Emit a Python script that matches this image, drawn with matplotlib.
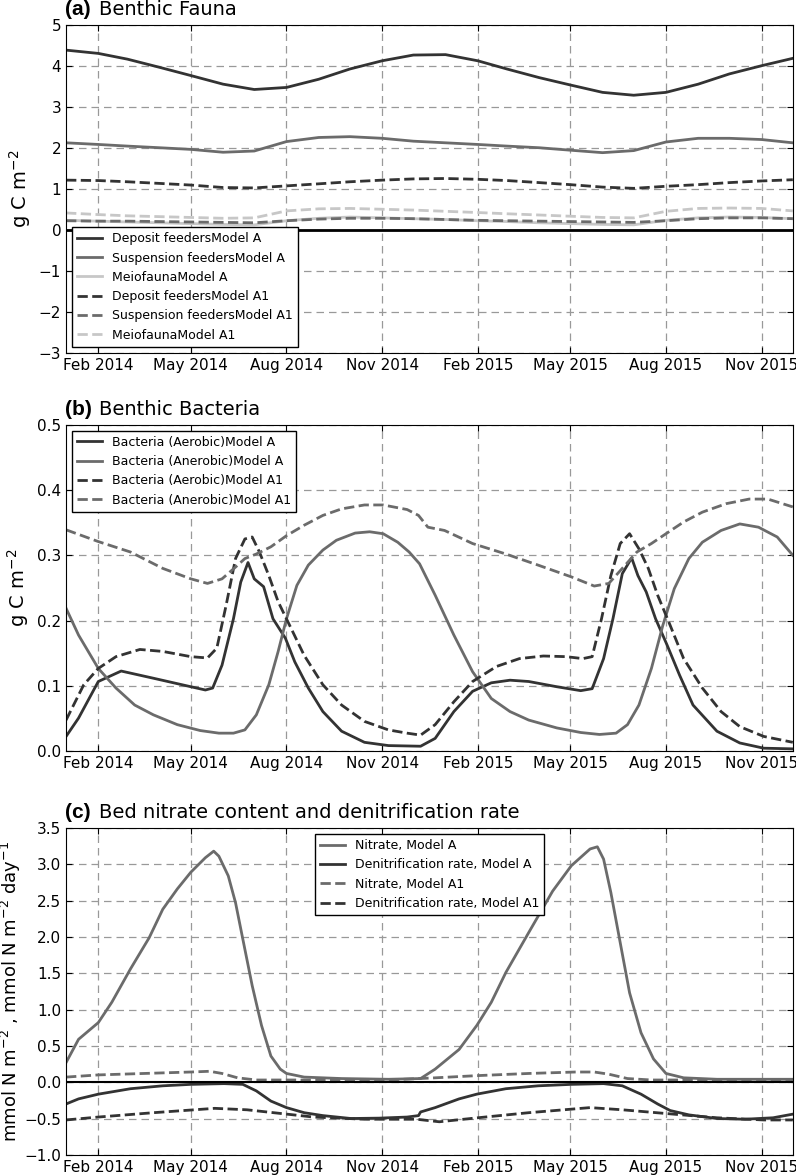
import numpy as np
import matplotlib
matplotlib.use('Agg')
from matplotlib import pyplot as plt
import matplotlib.dates as mdates

START = np.datetime64('2014-01-01')

# ---- panel (a): benthic fauna, monthly values (days since 1 Jan 2014)
fauna_days = [0, 31, 59, 90, 120, 151, 181, 212, 243, 273, 304, 334,
              365, 396, 424, 455, 485, 516, 546, 577, 608, 638, 669, 699]
deposit_a = [4.38, 4.30, 4.16, 3.96, 3.76, 3.55, 3.42, 3.47, 3.67, 3.92, 4.12, 4.26,
             4.27, 4.12, 3.92, 3.71, 3.53, 3.35, 3.28, 3.35, 3.55, 3.80, 4.00, 4.18]
suspension_a = [2.12, 2.08, 2.04, 2.00, 1.96, 1.89, 1.92, 2.15, 2.25, 2.27, 2.23, 2.16,
                2.12, 2.08, 2.04, 2.00, 1.94, 1.88, 1.93, 2.14, 2.23, 2.23, 2.20, 2.12]
meio_a = [0.23, 0.21, 0.19, 0.17, 0.15, 0.13, 0.12, 0.22, 0.28, 0.31, 0.29, 0.27,
          0.25, 0.22, 0.20, 0.17, 0.15, 0.13, 0.12, 0.23, 0.29, 0.31, 0.30, 0.27]
deposit_a1 = [1.21, 1.20, 1.17, 1.13, 1.09, 1.03, 1.02, 1.07, 1.12, 1.17, 1.21, 1.24,
              1.25, 1.23, 1.20, 1.15, 1.10, 1.04, 1.01, 1.06, 1.10, 1.15, 1.19, 1.22]
suspension_a1 = [0.22, 0.21, 0.21, 0.20, 0.19, 0.18, 0.17, 0.22, 0.26, 0.28, 0.28, 0.27,
                 0.25, 0.23, 0.22, 0.21, 0.20, 0.19, 0.18, 0.22, 0.27, 0.29, 0.29, 0.27]
meio_a1 = [0.41, 0.37, 0.34, 0.32, 0.30, 0.28, 0.29, 0.46, 0.51, 0.52, 0.50, 0.48,
           0.45, 0.42, 0.39, 0.36, 0.33, 0.30, 0.29, 0.45, 0.52, 0.53, 0.52, 0.46]

# ---- panel (b): benthic bacteria
aer_a_days = [0, 12, 31, 53, 84, 120, 134, 141, 150, 161, 168, 175, 181, 190, 199, 211,
              220, 233, 247, 265, 287, 310, 341, 355, 373, 391, 409, 427, 445, 472, 495,
              506, 517, 526, 535, 544, 550, 558, 567, 578, 590, 603, 626, 648, 671, 699]
aer_a = [0.023, 0.051, 0.107, 0.123, 0.112, 0.099, 0.094, 0.097, 0.132, 0.203, 0.259,
         0.289, 0.264, 0.252, 0.203, 0.173, 0.137, 0.097, 0.061, 0.031, 0.014, 0.009,
         0.008, 0.020, 0.061, 0.092, 0.105, 0.109, 0.107, 0.099, 0.093, 0.096, 0.142,
         0.203, 0.272, 0.296, 0.269, 0.244, 0.203, 0.163, 0.117, 0.071, 0.031, 0.013,
         0.005, 0.004]
anaer_a_days = [0, 12, 31, 48, 66, 84, 107, 129, 147, 161, 172, 183, 195, 204, 212, 222,
                233, 247, 260, 278, 292, 305, 319, 330, 340, 355, 373, 391, 409, 427, 445,
                472, 495, 513, 529, 540, 551, 563, 574, 585, 599, 612, 630, 648, 666, 684, 699]
anaer_a = [0.219, 0.178, 0.127, 0.097, 0.071, 0.056, 0.041, 0.032, 0.028, 0.028, 0.033,
           0.056, 0.102, 0.153, 0.203, 0.254, 0.285, 0.308, 0.323, 0.334, 0.336, 0.333,
           0.320, 0.305, 0.287, 0.239, 0.178, 0.122, 0.081, 0.061, 0.048, 0.036, 0.029,
           0.026, 0.028, 0.041, 0.071, 0.127, 0.193, 0.249, 0.295, 0.320, 0.338, 0.348,
           0.343, 0.328, 0.300]
aer_a1_days = [0, 17, 31, 48, 71, 93, 120, 136, 145, 154, 163, 172, 179, 186, 195, 204,
               215, 229, 247, 265, 287, 310, 328, 341, 355, 373, 391, 414, 436, 459, 481,
               497, 506, 515, 524, 533, 542, 551, 560, 569, 581, 594, 612, 630, 648, 671, 699]
aer_a1 = [0.048, 0.102, 0.127, 0.145, 0.156, 0.153, 0.145, 0.143, 0.158, 0.224, 0.295,
          0.325, 0.328, 0.305, 0.269, 0.229, 0.193, 0.147, 0.102, 0.071, 0.046, 0.033,
          0.028, 0.025, 0.041, 0.076, 0.107, 0.130, 0.142, 0.146, 0.145, 0.142, 0.145,
          0.203, 0.269, 0.318, 0.333, 0.310, 0.280, 0.239, 0.193, 0.142, 0.097, 0.061,
          0.038, 0.023, 0.014]
anaer_a1_days = [0, 31, 62, 93, 120, 136, 150, 163, 172, 183, 197, 212, 229, 247, 265,
                 287, 305, 328, 339, 348, 364, 391, 423, 454, 486, 508, 522, 535, 549,
                 563, 577, 594, 612, 635, 657, 675, 699]
anaer_a1 = [0.339, 0.321, 0.305, 0.280, 0.264, 0.257, 0.264, 0.282, 0.295, 0.302, 0.313,
            0.330, 0.346, 0.361, 0.371, 0.377, 0.377, 0.370, 0.361, 0.343, 0.338, 0.318,
            0.302, 0.285, 0.267, 0.253, 0.257, 0.280, 0.305, 0.318, 0.333, 0.351, 0.366,
            0.379, 0.386, 0.386, 0.374]

# ---- panel (c): nitrate and denitrification
nit_a_days = [0, 12, 31, 44, 62, 80, 93, 107, 120, 134, 142, 147, 156, 163, 170, 179,
              188, 197, 206, 212, 229, 265, 310, 341, 355, 378, 395, 409, 423, 445, 468,
              486, 504, 511, 517, 524, 533, 542, 553, 565, 577, 594, 626, 671, 699]
nit_a = [0.27, 0.59, 0.82, 1.10, 1.56, 1.99, 2.38, 2.66, 2.89, 3.09, 3.18, 3.11, 2.84,
         2.47, 1.97, 1.33, 0.78, 0.36, 0.18, 0.12, 0.07, 0.05, 0.04, 0.05, 0.18, 0.45,
         0.78, 1.10, 1.51, 2.06, 2.63, 2.98, 3.21, 3.24, 3.07, 2.61, 1.92, 1.23, 0.68,
         0.32, 0.12, 0.06, 0.04, 0.04, 0.04]
den_a_days = [0, 12, 31, 62, 93, 120, 152, 170, 183, 197, 212, 229, 247, 274, 301, 328,
              339, 341, 355, 378, 395, 423, 454, 486, 517, 535, 553, 569, 581, 599, 626,
              653, 680, 699]
den_a = [-0.30, -0.23, -0.165, -0.09, -0.05, -0.03, -0.02, -0.03, -0.12, -0.26, -0.35,
         -0.42, -0.46, -0.50, -0.495, -0.48, -0.46, -0.41, -0.35, -0.23, -0.165, -0.09,
         -0.05, -0.03, -0.02, -0.05, -0.165, -0.30, -0.39, -0.45, -0.50, -0.51, -0.49, -0.44]
nit_a1_days = [0, 31, 75, 120, 138, 150, 165, 183, 220, 310, 355, 395, 445, 490, 508,
               522, 540, 563, 699]
nit_a1 = [0.07, 0.10, 0.12, 0.14, 0.15, 0.12, 0.06, 0.03, 0.03, 0.03, 0.06, 0.09, 0.12,
          0.14, 0.14, 0.11, 0.05, 0.03, 0.03]
den_a1_days = [0, 31, 84, 143, 174, 206, 238, 287, 337, 359, 396, 445, 504, 535, 576,
               626, 671, 699]
den_a1 = [-0.52, -0.48, -0.42, -0.36, -0.38, -0.43, -0.48, -0.51, -0.51, -0.545, -0.49,
          -0.42, -0.35, -0.38, -0.43, -0.49, -0.52, -0.52]

DARK, MID, LIGHT = '0.2', '0.42', '0.78'


def dates(days):
    return START + np.array(days, dtype='timedelta64[D]')


def style_axes(ax, letter, title):
    ax.set_xlim(dates([0])[0], dates([699])[0])
    ax.xaxis.set_major_locator(mdates.MonthLocator(bymonth=[2, 5, 8, 11]))
    ax.xaxis.set_major_formatter(mdates.DateFormatter('%b %Y'))
    ax.grid(True, color='0.6', linestyle=(0, (6, 4)), linewidth=0.9)
    ax.tick_params(direction='in', top=True, right=True, labelsize=11, length=4)
    ax.annotate(letter, xy=(0, 1), xycoords='axes fraction', xytext=(-1, 4),
                textcoords='offset points', ha='left', va='bottom',
                fontsize=15, fontweight='bold', family='Liberation Sans')
    ax.annotate(title, xy=(0, 1), xycoords='axes fraction', xytext=(24, 4),
                textcoords='offset points', ha='left', va='bottom', fontsize=14)


fig = plt.figure(figsize=(7.96, 11.76), dpi=100)
ax1 = fig.add_axes([0.083, 0.700, 0.913, 0.279])
ax2 = fig.add_axes([0.083, 0.361, 0.913, 0.278])
ax3 = fig.add_axes([0.083, 0.018, 0.913, 0.278])

leg_kw = dict(fontsize=9, fancybox=False, edgecolor='k', framealpha=1)

# (a)
ax1.plot(dates(fauna_days), deposit_a, color=DARK, lw=2, label='Deposit feedersModel A')
ax1.plot(dates(fauna_days), suspension_a, color=MID, lw=2, label='Suspension feedersModel A')
ax1.plot(dates(fauna_days), meio_a, color=LIGHT, lw=2, label='MeiofaunaModel A')
ax1.plot(dates(fauna_days), deposit_a1, '--', color=DARK, lw=2, label='Deposit feedersModel A1')
ax1.plot(dates(fauna_days), suspension_a1, '--', color=MID, lw=2, label='Suspension feedersModel A1')
ax1.plot(dates(fauna_days), meio_a1, '--', color=LIGHT, lw=2, label='MeiofaunaModel A1')
ax1.axhline(0, color='k', lw=2)
ax1.set_ylim(-3, 5)
ax1.set_ylabel('g C m$^{-2}$', fontsize=14)
ax1.legend(loc='lower left', **leg_kw)
style_axes(ax1, '(a)', 'Benthic Fauna')

# (b)
ax2.plot(dates(aer_a_days), aer_a, color=DARK, lw=2, label='Bacteria (Aerobic)Model A')
ax2.plot(dates(anaer_a_days), anaer_a, color=MID, lw=2, label='Bacteria (Anerobic)Model A')
ax2.plot(dates(aer_a1_days), aer_a1, '--', color=DARK, lw=2, label='Bacteria (Aerobic)Model A1')
ax2.plot(dates(anaer_a1_days), anaer_a1, '--', color=MID, lw=2, label='Bacteria (Anerobic)Model A1')
ax2.set_ylim(0, 0.5)
ax2.set_ylabel('g C m$^{-2}$', fontsize=14)
ax2.legend(loc='upper left', **leg_kw)
style_axes(ax2, '(b)', 'Benthic Bacteria')

# (c)
ax3.plot(dates(nit_a_days), nit_a, color=MID, lw=2, label='Nitrate, Model A')
ax3.plot(dates(den_a_days), den_a, color=DARK, lw=2, label='Denitrification rate, Model A')
ax3.plot(dates(nit_a1_days), nit_a1, '--', color=MID, lw=2, label='Nitrate, Model A1')
ax3.plot(dates(den_a1_days), den_a1, '--', color=DARK, lw=2, label='Denitrification rate, Model A1')
ax3.axhline(0, color='k', lw=1.5)
ax3.set_ylim(-1.0, 3.5)
ax3.set_ylabel('mmol N m$^{-2}$ , mmol N m$^{-2}$ day$^{-1}$', fontsize=13, labelpad=1)
ax3.legend(loc='upper center', **leg_kw)
style_axes(ax3, '(c)', 'Bed nitrate content and denitrification rate')

fig.savefig('out.png', dpi=100)
